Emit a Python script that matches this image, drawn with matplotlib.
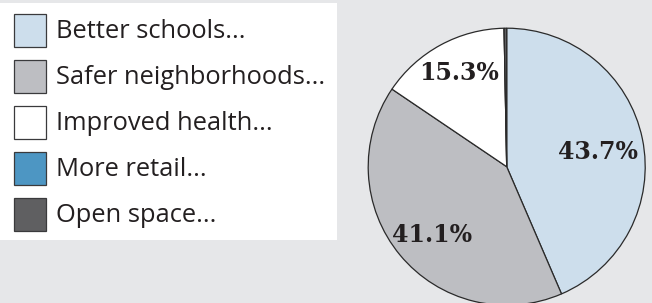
import matplotlib
matplotlib.use("Agg")
import matplotlib.pyplot as plt
from matplotlib.patches import Rectangle
import numpy as np

categories = ["Better schools...", "Safer neighborhoods...", "Improved health...",
              "More retail...", "Open space..."]
values = [43.7, 41.1, 15.3, 0.0, 0.3]
labels = ["43.7%", "41.1%", "15.3%", "", ""]
colors = ["#cddeec", "#bdbec2", "#ffffff", "#4d96c3", "#5f5f61"]
# label placement: (distance from centre as fraction of radius, angle offset in deg)
label_place = [(0.665, -2.7), (0.732, 2.9), (0.758, -1.7), (0, 0), (0, 0)]

W, H = 652, 303
fig = plt.figure(figsize=(W / 100, H / 100), dpi=100)
fig.patch.set_facecolor("#e6e7e9")

# background / legend axes in pixel coords
bg = fig.add_axes([0, 0, 1, 1])
bg.set_xlim(0, W)
bg.set_ylim(H, 0)
bg.axis("off")
bg.add_patch(Rectangle((0, 3), 337, 237, facecolor="white", edgecolor="none"))
for i, (cat, col) in enumerate(zip(categories, colors)):
    y0 = 14 + i * 46
    bg.add_patch(Rectangle((13.5, y0), 32.5, 32.5, facecolor=col,
                           edgecolor="#3a3a3c", linewidth=0.9))
    bg.text(56, y0 + 17, cat, fontsize=18.4, family="Open Sans",
            color="#231f20", va="center", ha="left")

# pie axes
cx, cy, r = 506.7, H - 166.7, 138.5
half = 142
ax = fig.add_axes([(cx - half) / W, (cy - half) / H, 2 * half / W, 2 * half / H])
wedges, _ = ax.pie(values, colors=colors, startangle=90, counterclock=False,
                   radius=1.0,
                   wedgeprops=dict(edgecolor="#2a2a2a", linewidth=0.9))
lim = half / r
ax.set_xlim(-lim, lim)
ax.set_ylim(-lim, lim)
ax.set_aspect("equal")
ax.axis("off")
for w, lab, (d, off) in zip(wedges, labels, label_place):
    if not lab:
        continue
    ang = np.deg2rad((w.theta1 + w.theta2) / 2 + off)
    ax.text(d * np.cos(ang), d * np.sin(ang), lab, ha="center", va="center",
            fontsize=17, fontweight="bold", family="DejaVu Serif", color="#231f20")

fig.savefig("out.png", dpi=100, facecolor=fig.get_facecolor())
